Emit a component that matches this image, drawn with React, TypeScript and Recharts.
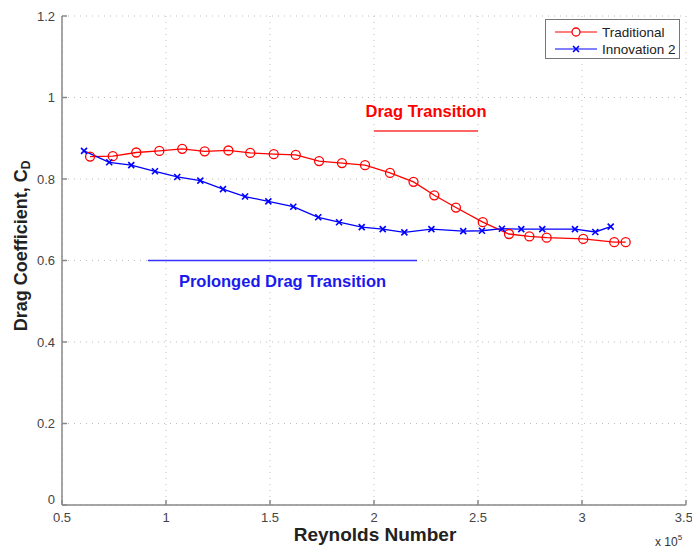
import { LineChart, Line, XAxis, YAxis, CartesianGrid, ReferenceLine } from 'recharts'

// Reynolds number (x 10^5) and drag coefficient
const traditionalRe = [0.635, 0.744, 0.857, 0.968, 1.078, 1.186, 1.3, 1.405, 1.518, 1.624, 1.736, 1.846, 1.957, 2.077, 2.19, 2.29, 2.394, 2.523, 2.649, 2.747, 2.83, 3.006, 3.155, 3.21]
const traditionalCd = [0.855, 0.856, 0.865, 0.869, 0.874, 0.868, 0.87, 0.864, 0.861, 0.859, 0.844, 0.839, 0.834, 0.815, 0.793, 0.76, 0.73, 0.694, 0.665, 0.659, 0.656, 0.653, 0.645, 0.645]

const innovationRe = [0.606, 0.727, 0.833, 0.947, 1.054, 1.165, 1.274, 1.38, 1.492, 1.612, 1.732, 1.832, 1.941, 2.042, 2.146, 2.276, 2.429, 2.519, 2.615, 2.708, 2.809, 2.966, 3.064, 3.138]
const innovationCd = [0.869, 0.841, 0.834, 0.819, 0.805, 0.796, 0.775, 0.757, 0.745, 0.732, 0.706, 0.694, 0.682, 0.677, 0.669, 0.677, 0.672, 0.673, 0.678, 0.677, 0.677, 0.677, 0.67, 0.683]

const xTicks = [0.5, 1, 1.5, 2, 2.5, 3, 3.5]
const yTicks = [0, 0.2, 0.4, 0.6, 0.8, 1, 1.2]

// annotation segments: [x1, x2, y]
const dragTransition = [2.0, 2.5, 0.918]
const prolongedTransition = [0.913, 2.207, 0.6]

const traditional = traditionalRe.map((re, i) => ({ re, cd: traditionalCd[i] }))
const innovation = innovationRe.map((re, i) => ({ re, cd: innovationCd[i] }))

const RED = '#ff0000'
const BLUE = '#0000ff'
const font = 'Arial, "Liberation Sans", sans-serif'

const CircleDot = (props: any) => {
  const { cx, cy } = props
  if (cx == null || cy == null) return null
  return <circle cx={cx} cy={cy} r={4.5} stroke={RED} strokeWidth={1.3} fill="none" />
}

const CrossDot = (props: any) => {
  const { cx, cy } = props
  if (cx == null || cy == null) return null
  const s = 3
  return (
    <path
      d={`M${cx - s},${cy - s}L${cx + s},${cy + s}M${cx - s},${cy + s}L${cx + s},${cy - s}`}
      stroke={BLUE}
      strokeWidth={1.6}
    />
  )
}

// matlab style: the 0 on the y axis sits a little above the corner
const YTick = (props: any) => {
  const { x, y, payload } = props
  const shift = payload.value === 0 ? -6 : 0
  return (
    <text x={x} y={y + shift} dy="0.355em" textAnchor="end" fill="#444" fontSize={13} fontFamily={font}>
      {String(payload.value)}
    </text>
  )
}

const LegendBox = () => (
  <div
    style={{
      position: 'absolute',
      left: 545,
      top: 19,
      width: 135,
      height: 40,
      border: '1px solid #777',
      background: '#fff',
      boxSizing: 'border-box',
    }}
  >
    <svg width={135} height={40} style={{ position: 'absolute', left: 0, top: 0 }}>
      <line x1={9} x2={51} y1={12} y2={12} stroke={RED} strokeWidth={1.2} />
      <circle cx={30} cy={12} r={4} stroke={RED} strokeWidth={1.3} fill="#fff" />
      <line x1={9} x2={51} y1={29} y2={29} stroke={BLUE} strokeWidth={1.2} />
      <path d="M27,26L33,32M27,32L33,26" stroke={BLUE} strokeWidth={1.6} />
      <text x={56} y={16.5} fontSize={13.5} fill="#222" fontFamily={font}>Traditional</text>
      <text x={56} y={33.5} fontSize={13.5} fill="#222" fontFamily={font}>Innovation 2</text>
    </svg>
  </div>
)

export default function App() {
  return (
    <div style={{ position: 'absolute', left: 0, top: 0, width: 692, height: 548, background: '#fff' }}>
      <LineChart width={692} height={548} margin={{ top: 16, right: 6, bottom: 0, left: 0 }}>
        <CartesianGrid stroke="#bbb" strokeDasharray="1 5" />
        <XAxis
          type="number"
          dataKey="re"
          domain={[0.5, 3.5]}
          ticks={xTicks}
          height={43}
          stroke="#888"
          strokeWidth={1.5}
          tickSize={-5}
          tickMargin={13}
          tick={{ fill: '#444', fontSize: 13, fontFamily: font }}
          allowDuplicatedCategory={false}
        />
        <YAxis
          type="number"
          dataKey="cd"
          domain={[0, 1.2]}
          ticks={yTicks}
          width={62}
          stroke="#888"
          strokeWidth={1.5}
          tickSize={-5}
          tickMargin={12}
          tick={<YTick />}
        />
        <ReferenceLine
          segment={[{ x: dragTransition[0], y: dragTransition[2] }, { x: dragTransition[1], y: dragTransition[2] }]}
          stroke="#ff3333"
          strokeWidth={1.5}
          label={{ value: 'Drag Transition', position: 'top', offset: 14, fill: RED, fontSize: 16.5, fontWeight: 'bold', fontFamily: font }}
        />
        <ReferenceLine
          segment={[{ x: prolongedTransition[0], y: prolongedTransition[2] }, { x: prolongedTransition[1], y: prolongedTransition[2] }]}
          stroke="#3333ff"
          strokeWidth={1.5}
          label={{ value: 'Prolonged Drag Transition', position: 'bottom', offset: 15, fill: '#1a1aee', fontSize: 16.5, fontWeight: 'bold', fontFamily: font }}
        />
        <Line
          data={traditional}
          dataKey="cd"
          name="Traditional"
          type="linear"
          stroke={RED}
          strokeWidth={1.3}
          dot={<CircleDot />}
          activeDot={false}
          isAnimationActive={false}
        />
        <Line
          data={innovation}
          dataKey="cd"
          name="Innovation 2"
          type="linear"
          stroke={BLUE}
          strokeWidth={1.3}
          dot={<CrossDot />}
          activeDot={false}
          isAnimationActive={false}
        />
      </LineChart>
      <LegendBox />
      <div
        style={{
          position: 'absolute',
          left: 375,
          top: 524,
          transform: 'translateX(-50%)',
          fontFamily: font,
          fontWeight: 'bold',
          fontSize: 19,
          color: '#222',
          whiteSpace: 'nowrap',
        }}
      >
        Reynolds Number
      </div>
      <div
        style={{
          position: 'absolute',
          left: 22,
          top: 246,
          transform: 'translate(-50%, -50%) rotate(-90deg)',
          fontFamily: font,
          fontWeight: 'bold',
          fontSize: 18,
          color: '#222',
          whiteSpace: 'nowrap',
        }}
      >
        Drag Coefficient, C<sub style={{ fontSize: 12, verticalAlign: '-3px' }}>D</sub>
      </div>
      <div
        style={{ position: 'absolute', left: 655, top: 533, fontFamily: font, fontSize: 12, color: '#333', whiteSpace: 'nowrap' }}
      >
        x 10<sup style={{ fontSize: 8, verticalAlign: '6px' }}>5</sup>
      </div>
    </div>
  )
}
